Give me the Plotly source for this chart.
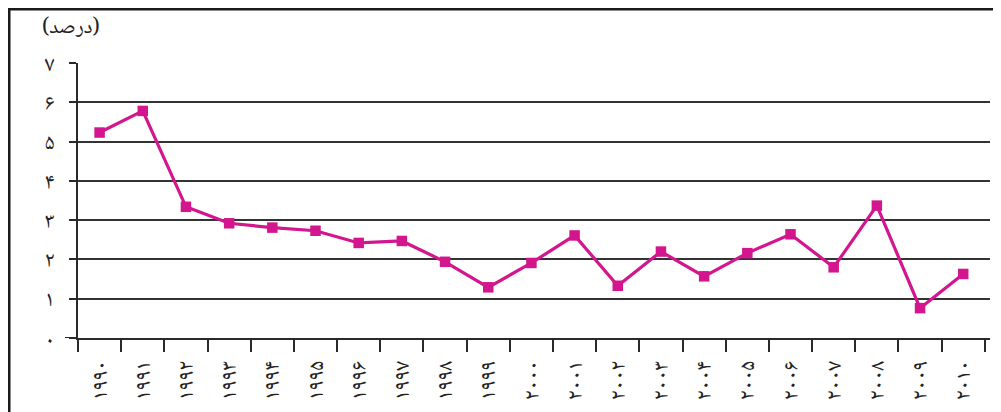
import plotly.graph_objects as go

years = ["۱۹۹۰", "۱۹۹۱", "۱۹۹۲", "۱۹۹۳", "۱۹۹۴", "۱۹۹۵", "۱۹۹۶", "۱۹۹۷", "۱۹۹۸", "۱۹۹۹",
         "۲۰۰۰", "۲۰۰۱", "۲۰۰۲", "۲۰۰۳", "۲۰۰۴", "۲۰۰۵", "۲۰۰۶", "۲۰۰۷", "۲۰۰۸", "۲۰۰۹", "۲۰۱۰"]
values = [5.23, 5.78, 3.34, 2.92, 2.81, 2.73, 2.42, 2.47, 1.94, 1.29,
          1.91, 2.61, 1.33, 2.20, 1.57, 2.16, 2.64, 1.80, 3.37, 0.76, 1.63]
y_ticks = [0, 1, 2, 3, 4, 5, 6, 7]
y_tick_text = ["۰", "۱", "۲", "۳", "۴", "۵", "۶", "۷"]
unit_label = "(درصد)"

FONT = "Noto Naskh Arabic, Noto Sans Arabic, DejaVu Sans"
LINE_COLOR = "#D3168E"
DARK = "#2a2a2a"

# page has an 8px body margin, so figure coords = screen coords - 8
L, T, R, B = 70, 55, 982, 330.5
PW, PH = R - L, B - T

def px(x):
    return (x - L) / PW

def py(y):
    return (B - y) / PH

fig = go.Figure()
fig.add_trace(go.Scatter(
    x=years, y=values, mode="lines+markers",
    line=dict(color=LINE_COLOR, width=3.2),
    marker=dict(symbol="square", size=10.5, color=LINE_COLOR),
    showlegend=False, hoverinfo="x+y",
))

fig.update_layout(
    width=1001, height=412,
    margin=dict(l=L, r=1001 - R, t=T, b=412 - B),
    paper_bgcolor="white", plot_bgcolor="white",
    font=dict(family=FONT, color="#222"),
    xaxis=dict(
        type="category", categoryorder="array", categoryarray=years,
        range=[-0.5, 20.62],
        tickson="boundaries", ticks="outside", ticklen=12, tickwidth=2, tickcolor=DARK,
        tickangle=-90, tickfont=dict(family=FONT, size=22, color="#222"),
        ticklabelstandoff=12,
        showgrid=False, zeroline=False,
        showline=True, linecolor=DARK, linewidth=2,
    ),
    yaxis=dict(
        range=[0, 7], tickvals=y_ticks, ticktext=y_tick_text,
        ticks="outside", ticklen=7, tickwidth=1.5, tickcolor=DARK,
        tickfont=dict(family=FONT, size=22, color="#222"),
        ticklabelstandoff=10,
        showgrid=True, gridcolor="#333", gridwidth=1.5,
        zeroline=False,
        showline=True, linecolor=DARK, linewidth=2,
    ),
    annotations=[dict(
        text=unit_label, xref="paper", yref="paper",
        x=px(63), y=py(20),
        xanchor="center", yanchor="middle", showarrow=False,
        font=dict(family=FONT, size=21, color="#222"),
    )],
    shapes=[
        dict(type="line", xref="paper", yref="paper",
             x0=px(1), x1=px(1), y0=py(1), y1=py(450),
             line=dict(color="#1a1a1a", width=3)),
        dict(type="line", xref="paper", yref="paper",
             x0=px(0), x1=px(1010), y0=py(1), y1=py(1),
             line=dict(color="#1a1a1a", width=3)),
        dict(type="line", xref="paper", yref="y",
             x0=px(57), x1=0, y0=0, y1=0,
             line=dict(color=DARK, width=2)),
    ],
)

fig.write_html("out.html")
